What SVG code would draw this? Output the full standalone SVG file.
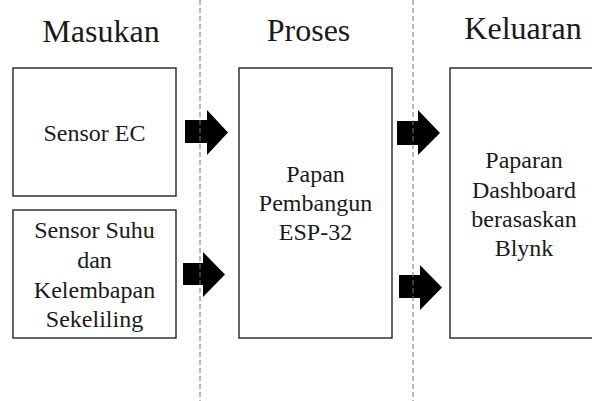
<svg xmlns="http://www.w3.org/2000/svg" width="592" height="401" viewBox="0 0 592 401">
<style>
.box{fill:#fff;stroke:#262626;stroke-width:1.4}
.t{font-family:"Liberation Serif","Times New Roman",serif;font-size:24px;fill:#1a1a1a;text-anchor:middle}
.h{font-family:"Liberation Serif","Times New Roman",serif;font-size:32px;fill:#1a1a1a;text-anchor:middle}
.arr{fill:#000}
.sep{stroke:#777;stroke-width:1;stroke-dasharray:5 3;fill:none}
</style>
<rect width="592" height="401" fill="#fff"/>
<g id="titles">
<text class="h" x="101" y="42">Masukan</text>
<text class="h" x="308.5" y="41">Proses</text>
<text class="h" x="523" y="39">Keluaran</text>
</g>
<g id="sensor-ec">
<rect class="box" x="13" y="68" width="163" height="128"/>
<text class="t" x="94.5" y="141">Sensor EC</text>
</g>
<g id="sensor-suhu">
<rect class="box" x="13" y="210" width="163" height="128"/>
<text class="t" x="94.5" y="238">Sensor Suhu</text>
<text class="t" x="94.5" y="268">dan</text>
<text class="t" x="94.5" y="298">Kelembapan</text>
<text class="t" x="94.5" y="327">Sekeliling</text>
</g>
<g id="papan">
<rect class="box" x="239" y="68" width="153" height="270"/>
<text class="t" x="315.5" y="182">Papan</text>
<text class="t" x="315.5" y="211">Pembangun</text>
<text class="t" x="315.5" y="240">ESP-32</text>
</g>
<g id="paparan">
<rect class="box" x="450" y="68" width="170" height="270"/>
<text class="t" x="524" y="168">Paparan</text>
<text class="t" x="524" y="198">Dashboard</text>
<text class="t" x="524" y="227">berasaskan</text>
<text class="t" x="524" y="256">Blynk</text>
</g>
<g id="connectors">
<polygon class="arr" points="185,120 207,120 207,110 228,132.5 207,155 207,143 185,143"/>
<polygon class="arr" points="183,263 203,263 203,252 225,274.5 203,297 203,285 183,285"/>
<polygon class="arr" points="397,121 418,121 418,110 440,133 418,155 418,145 397,145"/>
<polygon class="arr" points="399,275 420,275 420,265 442,287.5 420,310 420,298 399,298"/>
</g>
<g id="separators">
<line class="sep" x1="200" y1="0" x2="200" y2="401"/>
<line class="sep" x1="413" y1="0" x2="413" y2="401"/>
</g>
</svg>
